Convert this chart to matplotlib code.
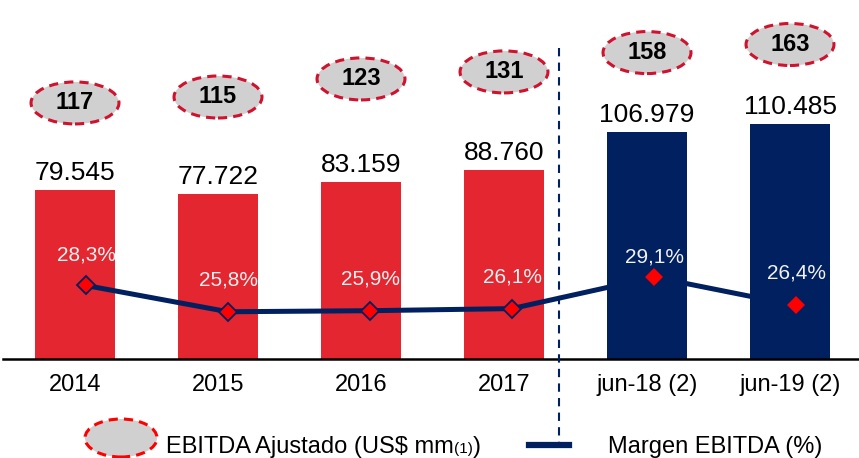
import numpy as np
import matplotlib
matplotlib.use("Agg")
from matplotlib import pyplot as plt
from matplotlib.patches import Ellipse
from matplotlib.lines import Line2D

# data
categories = ["2014", "2015", "2016", "2017", "jun-18 (2)", "jun-19 (2)"]
revenue = [79545, 77722, 83159, 88760, 106979, 110485]      # bar values (US$ mil)
revenue_labels = ["79.545", "77.722", "83.159", "88.760", "106.979", "110.485"]
ebitda = [117, 115, 123, 131, 158, 163]                    # EBITDA ajustado
margin = [28.3, 25.8, 25.9, 26.1, 29.1, 26.4]              # margen EBITDA %
margin_labels = ["28,3%", "25,8%", "25,9%", "26,1%", "29,1%", "26,4%"]

# layout (bubble heights in thousands, label offsets in pixels)
bubble_y = [120.5, 123.3, 131.8, 135.1, 144.2, 148.0]
pct_dy = [30, 32, 32, 32, 20, 32]

RED = "#E3262F"
NAVY = "#002060"
plt.rcParams['font.family'] = ['Liberation Sans', 'DejaVu Sans']

fig = plt.figure(figsize=(8.59, 4.58), dpi=100)
rect = [3/859, 1 - 359/458, 856/859, 359/458]
ax = fig.add_axes(rect)
x = np.arange(len(categories))
vals = np.array(revenue) / 1000.0
colors = [RED] * 4 + [NAVY] * 2
ax.bar(x, vals, width=0.56, color=colors, zorder=2)
ax.set_xlim((3 - 75) / 143, (859 - 75) / 143)
ax.set_ylim(0, 359 / 2.125)

for s in ["top", "left", "right"]:
    ax.spines[s].set_visible(False)
ax.spines["bottom"].set_linewidth(1.8)
ax.set_yticks([])
ax.set_xticks(x)
ax.set_xticklabels(categories, fontsize=17)
ax.tick_params(axis="x", length=0, pad=11)

for xi, v, lab in zip(x, vals, revenue_labels):
    ax.annotate(lab, (xi, v), xytext=(0, 5), textcoords="offset pixels",
                ha="center", va="bottom", fontsize=19, color="black")

# EBITDA bubbles
for xi, yb, e in zip(x, bubble_y, ebitda):
    ax.add_patch(Ellipse((xi, yb), 0.615, 42 / 2.125, facecolor="#D0D0D0",
                         edgecolor="#D0122E", lw=2.2, ls=(0, (3, 2)),
                         zorder=3, clip_on=False))
    ax.text(xi, yb, str(e), ha="center", va="center", fontsize=17,
            fontweight="bold", zorder=4)

# dashed separator
ax.plot([3.385, 3.385], [0.866, -0.24], transform=ax.get_xaxis_transform(),
        color=NAVY, lw=1.5, ls=(0, (4, 3)), clip_on=False, zorder=5)

# margin line (own axes, slightly shifted category positions)
ax2 = fig.add_axes(rect)
ax2.patch.set_visible(False)
ax2.set_xlim((3 - 86) / 142, (859 - 86) / 142)
ax2.set_ylim(21.3, 21.3 + 359 / 10.5)
ax2.axis("off")
ax2.plot(x, margin, color=NAVY, lw=3.6, zorder=2)
ax2.plot(x[:4], margin[:4], ls="none", marker="D", ms=9.5, mfc="#FF0000",
         mec=NAVY, mew=1.3, zorder=3)
ax2.plot(x[4:], margin[4:], ls="none", marker="D", ms=9, mfc="#FF0000",
         mec="#FF0000", mew=0, zorder=3)
for xi, m, lab, dy in zip(x, margin, margin_labels, pct_dy):
    ax2.annotate(lab, (xi, m), xytext=(0, dy), textcoords="offset pixels",
                 ha="center", va="center", fontsize=15, color="#F2F2F2")

# legend
fig.patches.append(Ellipse((121 / 859, 1 - 438 / 458), 72 / 859, 38 / 458,
                           transform=fig.transFigure, facecolor="#D0D0D0",
                           edgecolor="#FF0000", lw=2.2, ls=(0, (3, 2))))
base = 1 - 453 / 458
t1 = fig.text(166 / 859, base, "EBITDA Ajustado (US$ mm", fontsize=17,
              va="baseline")
fig.canvas.draw()
bb = t1.get_window_extent()
t2 = fig.text(bb.x1 / 859, base, "(1)", fontsize=11, va="baseline")
fig.canvas.draw()
bb2 = t2.get_window_extent()
fig.text(bb2.x1 / 859, base, ")", fontsize=17, va="baseline")
fig.add_artist(Line2D([529 / 859, 569 / 859], [1 - 445 / 458, 1 - 445 / 458],
                      transform=fig.transFigure, color=NAVY, lw=4.5))
fig.text(608 / 859, base, "Margen EBITDA (%)", fontsize=17, va="baseline")

fig.savefig("out.png", dpi=100)
